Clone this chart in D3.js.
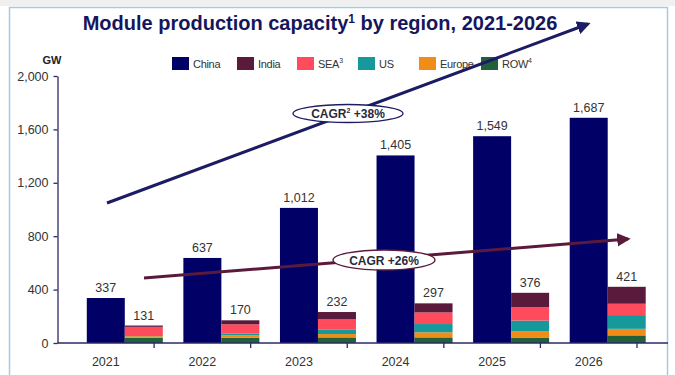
<!DOCTYPE html>
<html>
<head>
<meta charset="utf-8">
<script src="https://cdn.jsdelivr.net/npm/d3@7"></script>
<style>
  html, body { margin: 0; padding: 0; background: #fff; }
  svg { display: block; font-family: "Liberation Sans", Arial, sans-serif; }
</style>
</head>
<body>
<div id="chart"></div>
<script>
// data
const years = ["2021", "2022", "2023", "2024", "2025", "2026"];
const china = [337, 637, 1012, 1405, 1549, 1687];
const india = [10, 30, 55, 68, 108, 127];
const sea = [62, 68, 78, 87, 100, 85];
const us = [8, 15, 32, 62, 82, 103];
const europe = [12, 17, 25, 38, 45, 49];
const row = [39, 40, 42, 42, 41, 57];
const yTicks = [0, 400, 800, 1200, 1600, 2000];

const colors = {
    China: "#000066",
    India: "#5a1a3c",
    SEA: "#ff4b5c",
    US: "#16999a",
    Europe: "#f28c18",
    ROW: "#22603a"
};

const W = 675, H = 375;
const svg = d3.select("#chart").append("svg")
    .attr("width", W)
    .attr("height", H);

// frame
svg.append("rect")
    .attr("x", 0).attr("y", 0).attr("width", W).attr("height", 6)
    .attr("fill", "#f0f0f0");
svg.append("rect")
    .attr("x", 9.5).attr("y", 7.5).attr("width", 658).attr("height", 380)
    .attr("fill", "#fff")
    .attr("stroke", "#a9c9e2")
    .attr("stroke-width", 1.5);

// scales
const x = d3.scaleBand()
    .domain(years)
    .range([57.5, 637]);
const y = d3.scaleLinear()
    .domain([0, 2000])
    .range([343, 76]);
const bw = 38;
const mid = d => x(d) + x.bandwidth() / 2;

// title
const title = svg.append("text")
    .attr("x", 320).attr("y", 30)
    .attr("text-anchor", "middle")
    .attr("font-size", 20)
    .attr("font-weight", "bold")
    .attr("fill", "#16165c");
title.append("tspan").text("Module production capacity");
title.append("tspan").attr("font-size", 12).attr("dy", -7).text("1");
title.append("tspan").attr("dy", 7).text(" by region, 2021-2026");

// legend
const legendItems = [
    { key: "China", label: "China", x: 172 },
    { key: "India", label: "India", x: 237 },
    { key: "SEA", label: "SEA", sup: "3", x: 297 },
    { key: "US", label: "US", x: 358 },
    { key: "Europe", label: "Europe", x: 419 },
    { key: "ROW", label: "ROW", sup: "4", x: 481 }
];
const lg = svg.append("g").selectAll("g")
    .data(legendItems)
    .enter().append("g")
    .attr("transform", d => `translate(${d.x},57)`);
lg.append("rect")
    .attr("width", 17).attr("height", 13)
    .attr("fill", d => colors[d.key]);
const lt = lg.append("text")
    .attr("x", 21).attr("y", 11)
    .attr("font-size", 11)
    .attr("letter-spacing", -0.3)
    .attr("fill", "#333");
lt.append("tspan").text(d => d.label);
lt.append("tspan")
    .attr("font-size", 7).attr("dy", -5)
    .text(d => d.sup || "");

// y axis
svg.append("text")
    .attr("x", 52).attr("y", 64)
    .attr("text-anchor", "middle")
    .attr("font-size", 11)
    .attr("font-weight", "bold")
    .attr("fill", "#222")
    .text("GW");

const yAxis = svg.append("g")
    .attr("transform", "translate(57.5,0)")
    .call(d3.axisLeft(y).tickValues(yTicks).tickSize(4).tickSizeOuter(0)
        .tickFormat(d3.format(",")));
yAxis.select(".domain").attr("stroke", "#2a2a66").attr("stroke-width", 1.3);
yAxis.selectAll(".tick line").attr("stroke", "#2a2a66").attr("stroke-width", 1.3);
yAxis.selectAll(".tick text")
    .attr("x", -9)
    .attr("font-size", 12.5)
    .attr("font-family", "Liberation Sans, Arial, sans-serif")
    .attr("fill", "#333");

// China bars
svg.append("g").selectAll("rect")
    .data(years)
    .enter().append("rect")
    .attr("x", d => mid(d) - bw / 2)
    .attr("y", (d, i) => y(china[i]))
    .attr("width", bw)
    .attr("height", (d, i) => y(0) - y(china[i]))
    .attr("fill", colors.China);

// stacked other regions
const rows = years.map((yr, i) => ({
    year: yr, ROW: row[i], Europe: europe[i], US: us[i], SEA: sea[i], India: india[i]
}));
const keys = ["ROW", "Europe", "US", "SEA", "India"];
const series = d3.stack().keys(keys)(rows);
svg.append("g").selectAll("g")
    .data(series)
    .enter().append("g")
    .attr("fill", s => colors[s.key])
    .selectAll("rect")
    .data(s => s)
    .enter().append("rect")
    .attr("x", d => mid(d.data.year) + bw / 2)
    .attr("y", d => y(d[1]))
    .attr("width", bw)
    .attr("height", d => y(d[0]) - y(d[1]));

// value labels
const labelStyle = sel => sel
    .attr("text-anchor", "middle")
    .attr("font-size", 12.5)
    .attr("fill", "#333");
svg.append("g").selectAll("text")
    .data(years)
    .enter().append("text")
    .attr("x", d => mid(d))
    .attr("y", (d, i) => y(china[i]) - 6)
    .call(labelStyle)
    .text((d, i) => d3.format(",")(china[i]));
svg.append("g").selectAll("text")
    .data(rows)
    .enter().append("text")
    .attr("x", d => mid(d.year) + bw)
    .attr("y", d => y(d3.sum(keys, k => d[k])) - 6)
    .call(labelStyle)
    .text(d => d3.format(",")(d3.sum(keys, k => d[k])));

// x axis
const xAxis = svg.append("g");
xAxis.append("line")
    .attr("x1", 57.5).attr("x2", 668)
    .attr("y1", y(0)).attr("y2", y(0))
    .attr("stroke", "#2a2a66").attr("stroke-width", 1.3);
xAxis.selectAll("line.tick")
    .data(years)
    .enter().append("line")
    .attr("class", "tick")
    .attr("x1", d => x(d) + x.bandwidth()).attr("x2", d => x(d) + x.bandwidth())
    .attr("y1", y(0)).attr("y2", y(0) + 5)
    .attr("stroke", "#2a2a66").attr("stroke-width", 1.3);
xAxis.selectAll("text")
    .data(years)
    .enter().append("text")
    .attr("x", d => mid(d))
    .attr("y", 366)
    .attr("text-anchor", "middle")
    .attr("font-size", 12.5)
    .attr("fill", "#333")
    .text(d => d);

// CAGR arrows
const defs = svg.append("defs");
function marker(id, color) {
    defs.append("marker")
        .attr("id", id)
        .attr("viewBox", "0 0 10 10")
        .attr("refX", 8).attr("refY", 5)
        .attr("markerWidth", 4.5).attr("markerHeight", 4.5)
        .attr("orient", "auto")
        .append("path")
        .attr("d", "M0,0 L10,5 L0,10 Z")
        .attr("fill", color);
}
marker("arrowNavy", "#1c1c64");
marker("arrowMaroon", "#5a1a3c");

function cagr(x1, y1, x2, y2, color, markerId, cx, cy, rx, ry, parts) {
    svg.append("line")
        .attr("x1", x1).attr("y1", y1).attr("x2", x2).attr("y2", y2)
        .attr("stroke", color).attr("stroke-width", 3)
        .attr("marker-end", `url(#${markerId})`);
    svg.append("ellipse")
        .attr("cx", cx).attr("cy", cy).attr("rx", rx).attr("ry", ry)
        .attr("fill", "#fff").attr("stroke", color).attr("stroke-width", 1.3);
    const t = svg.append("text")
        .attr("x", cx).attr("y", cy + 4.5)
        .attr("text-anchor", "middle")
        .attr("font-size", 12)
        .attr("font-weight", "bold")
        .attr("fill", "#2a2a3a");
    parts.forEach(p => {
        t.append("tspan")
            .attr("font-size", p.sup ? 7 : 12)
            .attr("dy", p.dy || 0)
            .text(p.text);
    });
}
cagr(107, 203, 588, 24, "#1c1c64", "arrowNavy", 348, 113.5, 55, 9,
    [{ text: "CAGR" }, { text: "2", sup: true, dy: -5 }, { text: " +38%", dy: 5 }]);
cagr(144, 278, 628, 239, "#5a1a3c", "arrowMaroon", 384, 260, 51, 10,
    [{ text: "CAGR +26%" }]);
</script>
</body>
</html>
